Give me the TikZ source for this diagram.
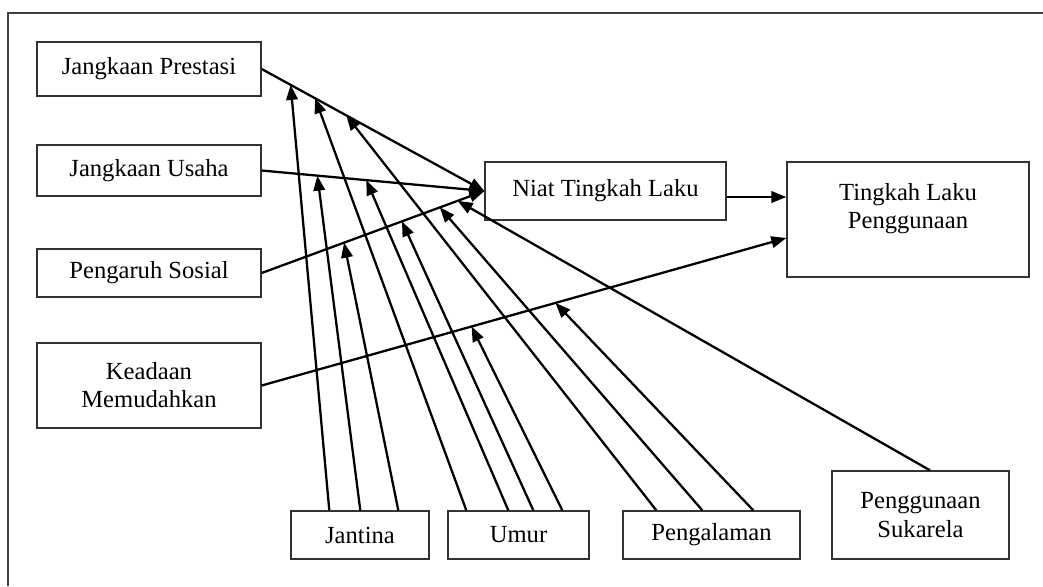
\documentclass[tikz,border=0pt]{standalone}
\usepackage{fontspec}
\setmainfont{Liberation Serif}
\usetikzlibrary{arrows.meta}

\begin{document}
\begin{tikzpicture}[x=0.02cm, y=-0.02cm]
 \tikzset{
  factorBox/.style={rectangle, draw=black!80, line width=0.8pt, align=center, inner sep=0pt, font=\fontsize{14}{16}\selectfont},
  effectArrow/.style={-{Triangle[length=0.3cm,width=0.23cm]}, line width=1.3pt}
  }
  \useasboundingbox (0,0) rectangle (1043,586);
  % the outer frame
  \draw[black!75, line width=0.8pt] (8,586) -- (8,13) -- (1043,13);

  % left column
  \node[factorBox, minimum width=4.48cm, minimum height=1.08cm] (JP) at (149,69) {Jangkaan Prestasi};
  \node[factorBox, minimum width=4.48cm, minimum height=1.02cm] (JU) at (149,170.5) {Jangkaan Usaha};
  \node[factorBox, minimum width=4.48cm, minimum height=0.96cm] (PS) at (149,273) {Pengaruh Sosial};
  \node[factorBox, minimum width=4.48cm, minimum height=1.70cm] (KM) at (149,385.5) {Keadaan\\Memudahkan};

  % intention and use
  \node[factorBox, minimum width=4.82cm, minimum height=1.16cm] (NTL) at (605.5,191) {Niat Tingkah Laku};
  \node[factorBox, minimum width=4.84cm, minimum height=2.30cm, text depth=0.54cm] (TLP) at (908,219.5) {Tingkah Laku\\Penggunaan};

  % moderators
  \node[factorBox, minimum width=2.76cm, minimum height=0.96cm] (JAN) at (360,535) {Jantina};
  \node[factorBox, minimum width=2.82cm, minimum height=0.96cm] (UMR) at (518.5,535) {Umur};
  \node[factorBox, minimum width=3.54cm, minimum height=0.96cm] (PGL) at (711.5,535) {Pengalaman};
  \node[factorBox, minimum width=3.54cm, minimum height=1.76cm] (SUK) at (920.5,515) {Penggunaan\\Sukarela};

  \coordinate (tlpIn) at ([yshift=-0.37cm]TLP.west);
  \coordinate (ntlOut) at ([yshift=-0.12cm]NTL.east);

  % main paths
  \draw[effectArrow] (JP.east) -- (NTL.west);
  \draw[effectArrow] (JU.east) -- (NTL.west);
  \draw[effectArrow] (PS.east) -- (NTL.west);
  \draw[effectArrow] (KM.east) -- (tlpIn);
  \draw[effectArrow] (ntlOut) -- (ntlOut -| TLP.west);

  % points where the moderators meet the paths
  \path (JP.east) -- (NTL.west) coordinate[pos=0.13] (jpJ) coordinate[pos=0.24] (jpU) coordinate[pos=0.38] (jpP);
  \path (JU.east) -- (NTL.west) coordinate[pos=0.25] (juJ) coordinate[pos=0.47] (juU);
  \path (PS.east) -- (NTL.west) coordinate[pos=0.37] (psJ) coordinate[pos=0.63] (psU)
    coordinate[pos=0.80] (psP) coordinate[pos=0.88] (psS);
  \path (KM.east) -- (tlpIn) coordinate[pos=0.40] (kmU) coordinate[pos=0.56] (kmP);

  % Jantina
  \draw[effectArrow] ([xshift=0.78cm]JAN.north west) -- (jpJ);
  \draw[effectArrow] ([xshift=1.40cm]JAN.north west) -- (juJ);
  \draw[effectArrow] ([xshift=2.16cm]JAN.north west) -- (psJ);
  % Umur
  \draw[effectArrow] ([xshift=0.38cm]UMR.north west) -- (jpU);
  \draw[effectArrow] ([xshift=1.22cm]UMR.north west) -- (juU);
  \draw[effectArrow] ([xshift=1.72cm]UMR.north west) -- (psU);
  \draw[effectArrow] ([xshift=2.30cm]UMR.north west) -- (kmU);
  % Pengalaman
  \draw[effectArrow] ([xshift=0.68cm]PGL.north west) -- (jpP);
  \draw[effectArrow] ([xshift=1.60cm]PGL.north west) -- (psP);
  \draw[effectArrow] ([xshift=2.62cm]PGL.north west) -- (kmP);
  % Penggunaan Sukarela
  \draw[effectArrow] ([xshift=0.19cm]SUK.north) -- (psS);

\end{tikzpicture}
\end{document}
